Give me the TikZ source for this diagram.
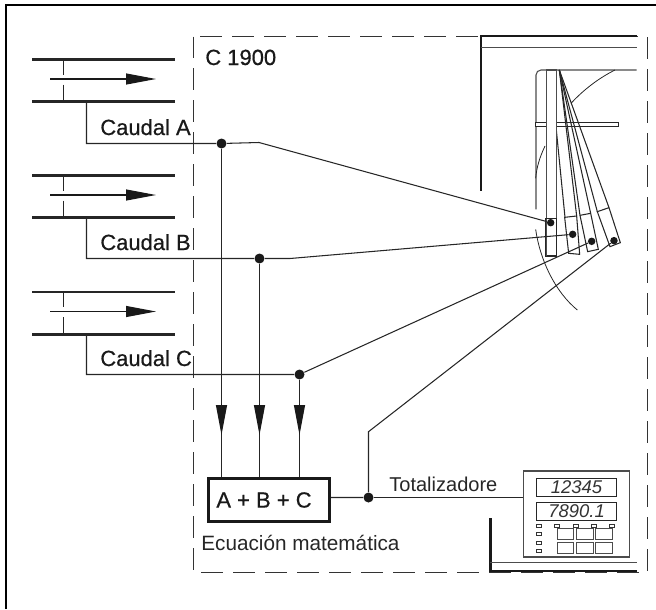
\documentclass[tikz,border=0pt]{standalone}
\usepackage{fontspec}
\setmainfont{Liberation Sans}
\newfontfamily\medfont[FakeBold=0.6]{Liberation Sans}
\usetikzlibrary{arrows.meta}
\tikzset{
    wire/.style={black!85, line width=0.6pt},
    pipewall/.style={black!85, line width=1.5pt},
    flowtip/.style={-{Triangle[length=0.6cm, width=0.22cm]}, black!90, line width=0.6pt},
    dot/.style={circle, fill=black!90, inner sep=0pt, minimum size=0.2cm},
    joint/.style={circle, fill=black!90, inner sep=0pt, minimum size=0.15cm},
    caption/.style={anchor=base west, inner sep=0pt, font=\medfont\fontsize{12.5}{14}\selectfont, text=black!90},
    plain/.style={anchor=base west, inner sep=0pt, font=\fontsize{11.4}{14}\selectfont, text=black!85},
    thinpart/.style={black!70, line width=0.6pt},
    panel/.style={black!90, line width=1.4pt},
    display/.style={draw=black!85, line width=0.5pt, minimum width=1.61cm, minimum height=0.36cm, inner sep=0pt, font=\itshape\fontsize{10.5}{12}\selectfont, text=black!80},
    lamp/.style={draw=black!80, line width=0.45pt, fill=white},
    keypad/.style={draw=black!70, line width=0.45pt}
}
\begin{document}
\begin{tikzpicture}[x=0.02cm, y=-0.02cm]
    \useasboundingbox (0,0) rectangle (656,609);
    % frame
    \draw[line width=1.15pt] (6,609) -- (6,5) -- (656,5);
    % instrument outline
    \draw[black!80, line width=0.85pt, dash pattern=on 0.44cm off 0.2cm] (193.5,36.5) rectangle (647.5,572.5);
    \node[caption] (name) at (205,65) {C 1900};

    % pipes
    \foreach \flow/\y/\yline in {A/59.5/143.5, B/175.5/258.5, C/292/374.5} {
        \draw[pipewall] (32,\y) -- (175,\y);
        \draw[pipewall] (32,\y+42.3) -- (175,\y+42.3);
        \draw[black!85, line width=0.9pt] (63.5,\y) -- (63.5,\y+15);
        \draw[black!85, line width=0.9pt] (63.5,\y+25) -- (63.5,\y+42.3);
        \draw[flowtip] (50,\y+19.5) -- (156,\y+19.5);
        \coordinate (tap\flow) at (86.5,\y+42.3);
        \coordinate (corner\flow) at (86.5,\yline);
        \node[caption] (label\flow) at (100,\yline-8.5) {Caudal \flow};
    }

    % pick-off points
    \node[dot] (dotA) at (221.5,143.5) {};
    \node[dot] (dotB) at (259.5,258.5) {};
    \node[dot] (dotC) at (299.5,374.5) {};
    \node[dot] (dotT) at (368.5,497.5) {};
    \coordinate (bendA) at (259,142.5);
    \coordinate (bendB) at (290,258.5);
    \coordinate (bendT) at (368.5,431.7);

    % recorder, pens
    \begin{scope}[shift={(440,20)}, x=0.02cm/3, y=-0.02cm/3]
        \draw[panel] (123,513) -- (123,48) -- (590,48);
        \draw[thinpart] (123,82) -- (590,82);
        \draw[thinpart] (288,568) -- (288,165) arc (180:270:15) -- (590,150);
        \draw[black!85, line width=0.45pt] (287,628) .. controls (300,720) and (345,815) .. (412,870);
        \draw[black!85, line width=0.45pt] (525,150) .. controls (475,175) and (430,210) .. (393,250);
        \draw[black!85, line width=0.45pt] (287,475) .. controls (290,440) and (300,410) .. (315,378);
        \draw[black!85, line width=0.5pt, fill=white] (287,307) rectangle (535,319);
        \coordinate (pivot) at (358,150);
        \draw[wire] (348,320) -- (375,592);
        \draw[wire] (pivot) -- (410,588);
        \draw[wire] (pivot) -- (420,586);
        \draw[wire] (pivot) -- (452,580);
        \draw[wire] (pivot) -- (472,575);
        \draw[wire] (pivot) -- (507,563);
        \draw[wire] (374,592) -- (410,588) -- (419,703) -- (386,700) -- cycle;
        \draw[wire] (420,586) -- (452,580) -- (475,688) -- (443,695) -- cycle;
        \draw[wire] (472,575) -- (507,563) -- (541,668) -- (510,680) -- cycle;
        \draw[thinpart, fill=white] (319.5,150) rectangle (349.5,596);
        \draw[wire, fill=white] (316.5,596) rectangle (349.5,708);
        \draw[thinpart] (319.5,596) -- (319.5,708);
        \node[joint] (penA) at (332,608) {};
        \node[joint] (penB) at (398,643) {};
        \node[joint] (penC) at (455,664) {};
        \node[joint] (penT) at (522,662) {};
    \end{scope}

    % sum block
    \node[draw=black!90, line width=1.5pt, fill=white, minimum width=2.43cm, minimum height=0.85cm, inner sep=0pt, font=\medfont\fontsize{12.5}{14}\selectfont, text=black!90] (sum) at (269,500) {A + B + C\hspace{0.2cm}\mbox{}};
    \node[plain, font=\fontsize{11.8}{14}\selectfont] (equation) at (201,550) {Ecuación matemática};
    \node[plain] (total) at (389,491.7) {Totalizadore};

    % wires
    \draw[wire] (tapA) -- (cornerA) -- (dotA) -- (bendA) -- (penA);
    \draw[wire] (tapB) -- (cornerB) -- (dotB) -- (bendB) -- (penB);
    \draw[wire] (tapC) -- (cornerC) -- (dotC) -- (penC);
    \draw[wire] (sum.east |- dotT) -- (dotT) -- (bendT) -- (penT);
    \foreach \flow in {A,B,C} {
        \draw[wire] (dot\flow) -- (dot\flow |- sum.north);
        \coordinate (start\flow) at (dot\flow |- 0,404);
        \coordinate (tip\flow) at (dot\flow |- 0,435);
        \draw[flowtip] (start\flow) -- (tip\flow);
    }

    % totaliser
    \node[draw=black!70, line width=0.75pt, fill=white, minimum width=2.11cm, minimum height=1.72cm, inner sep=0pt] (meter) at (576.5,514) {};
    \draw[wire] (dotT) -- (dotT -| meter.west);
    \node[display] (upper) at (576.6,487.5) {12345};
    \node[display] (lower) at (576.6,511.3) {7890.1};
    \foreach \x in {557,575.7,594.3,611.7} {
        \draw[lamp] (\x-2.5,524.5) rectangle (\x+2.5,527);
    }
    \foreach \y in {525.7,534.3,543,551.3} {
        \draw[lamp] (536.5,\y-1.5) rectangle (541.5,\y+1.5);
    }
    \foreach \x/\xx in {557.3/573.7, 576.3/593, 595.3/612} {
        \draw[keypad] (\x,528.3) rectangle (\xx,539.7);
        \draw[keypad] (\x,542.3) rectangle (\xx,553.7);
    }

    % panel base
    \draw[panel] (490.3,518) -- (490.3,571) -- (637,571);
    \draw[thinpart] (490.3,562.5) -- (637,562.5);
\end{tikzpicture}
\end{document}
